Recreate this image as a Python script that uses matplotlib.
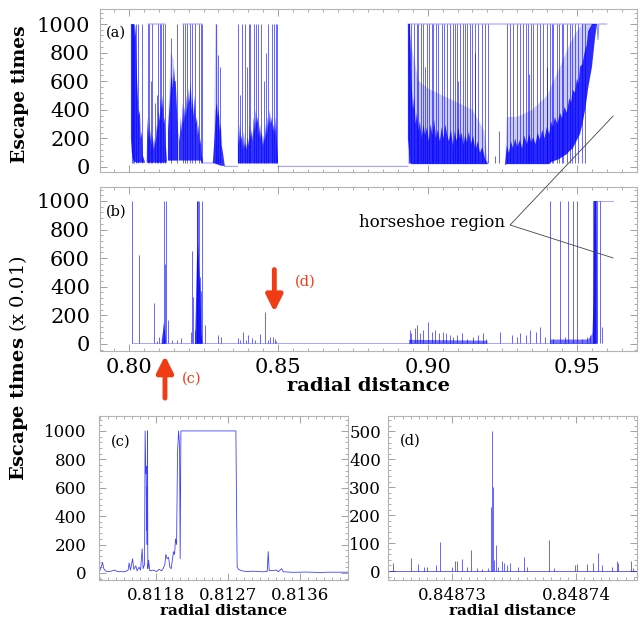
import numpy as np
import matplotlib
matplotlib.use("Agg")
import matplotlib.pyplot as plt
from matplotlib.ticker import MultipleLocator, AutoMinorLocator, FixedLocator, FormatStrFormatter

plt.rcParams['font.family'] = ['DejaVu Serif']
plt.rcParams['mathtext.fontset'] = 'dejavuserif'

nan = np.nan
BLUE = "#0000ff"
RED = "#f03c14"

# ---------------- panel (a): escape times, full range ----------------
# dense blue bands: x, upper edge and floor of each band
a1_x = [0.8007, 0.8010, 0.8013, 0.8017, 0.8020, 0.8023, 0.8027, 0.8030, 0.8033, 0.8037, 0.8040, 0.8044, 0.8047, 0.8054]
a1_hi = [1000, 1000, 1000, 1000, 900, 1000, 650, 500, 350, 400, 200, 250, 80, 35]
a1_lo = [200, 100, 60, 40, 35, 35, 30, 30, 30, 30, 30, 30, 30, 30]

a2_x = [0.8060, 0.8062, 0.8065, 0.8068, 0.8071, 0.8074, 0.8077, 0.8080, 0.8084, 0.8087, 0.8090,
        0.8094, 0.8097, 0.8100, 0.8104, 0.8107, 0.8111, 0.8114, 0.8117, 0.8120, 0.8124, 0.8127]
a2_hi = [40, 350, 200, 320, 180, 260, 150, 220, 120, 200, 160, 300, 250, 400, 320, 480, 400, 500, 300, 350, 150, 60]
a2_lo = [30] * 22

a3_x = [0.8131, 0.8134, 0.8137, 0.8141, 0.8144, 0.8147, 0.8151, 0.8154, 0.8157, 0.8161, 0.8164]
a3_hi = [250, 350, 450, 600, 650, 550, 700, 600, 600, 400, 250]
a3_lo = [45] * 11

a4_x = [0.8167, 0.8170, 0.8174, 0.8177, 0.8181, 0.8184, 0.8187, 0.8191, 0.8194, 0.8197, 0.8201, 0.8204, 0.8207,
        0.8211, 0.8214, 0.8217, 0.8221, 0.8224, 0.8228, 0.8231, 0.8234, 0.8238, 0.8241, 0.8244, 0.8248]
a4_hi = [250, 180, 350, 250, 450, 300, 420, 350, 500, 400, 550, 450, 600,
         400, 480, 350, 500, 300, 350, 220, 300, 150, 200, 80, 40]
a4_lo = [45] * 23 + [35, 30]

a5_x = [0.8281, 0.8285, 0.8288, 0.8291, 0.8295, 0.8298, 0.8301, 0.8305, 0.8308, 0.8311, 0.8315, 0.8321]
a5_hi = [30, 150, 250, 400, 450, 350, 400, 250, 300, 150, 100, 10]
a5_lo = [28, 25, 25, 20, 20, 15, 15, 10, 10, 8, 8, 5]

a6_x = [0.8365, 0.8368, 0.8372, 0.8375, 0.8378, 0.8382, 0.8385, 0.8388, 0.8392, 0.8395,
        0.8398, 0.8402, 0.8405, 0.8408, 0.8412, 0.8415, 0.8418, 0.8422, 0.8425, 0.8428,
        0.8432, 0.8435, 0.8439, 0.8442, 0.8445, 0.8449, 0.8452, 0.8455, 0.8459, 0.8462,
        0.8465, 0.8468, 0.8472, 0.8475, 0.8479, 0.8482, 0.8485, 0.8489, 0.8492, 0.8495, 0.8499]
a6_hi = [250, 150, 300, 180, 220, 120, 250, 140, 170, 120,
         210, 150, 300, 200, 260, 180, 350, 250, 400, 300,
         350, 220, 300, 200, 250, 150, 220, 180, 300, 220,
         350, 280, 400, 300, 350, 250, 300, 230, 350, 200, 50]
a6_lo = [25] * 41

a7_x = [0.8934, 0.8941, 0.8946, 0.8951, 0.8955, 0.8960, 0.8964, 0.8969, 0.8974, 0.8980,
        0.8986, 0.8992, 0.8998, 0.9004, 0.9010, 0.9016, 0.9022, 0.9028, 0.9034, 0.9041,
        0.9047, 0.9053, 0.9059, 0.9065, 0.9071, 0.9078, 0.9085, 0.9091, 0.9097, 0.9103,
        0.9108, 0.9114, 0.9120, 0.9126, 0.9132, 0.9138, 0.9145, 0.9152, 0.9160, 0.9168,
        0.9175, 0.9183, 0.9192, 0.9202]
a7_hi = [1000, 1000, 600, 400, 500, 300, 380, 250, 320, 200,
         300, 220, 280, 180, 300, 220, 330, 200, 260, 180,
         280, 200, 300, 230, 180, 260, 150, 250, 180, 280,
         200, 240, 150, 230, 170, 250, 160, 220, 120, 180,
         100, 140, 60, 20]
a7_lo = [200, 30] + [20] * 42

a8_x = [0.9259, 0.9265, 0.9272, 0.9279, 0.9286, 0.9293, 0.9300, 0.9309, 0.9316, 0.9323,
        0.9332, 0.9340, 0.9347, 0.9353, 0.9361, 0.9368, 0.9376, 0.9384, 0.9391, 0.9399,
        0.9407, 0.9413, 0.9419, 0.9426, 0.9434, 0.9443, 0.9450, 0.9458, 0.9466, 0.9474,
        0.9480, 0.9486, 0.9493, 0.9500, 0.9505, 0.9510, 0.9518, 0.9527, 0.9532, 0.9537,
        0.9550, 0.9560, 0.9567]
a8_hi = [20, 150, 100, 180, 130, 200, 140, 190, 130, 220,
         160, 230, 170, 210, 160, 240, 190, 260, 200, 280,
         230, 320, 280, 350, 300, 380, 340, 420, 380, 480,
         450, 540, 520, 620, 580, 700, 720, 820, 850, 950,
         1000, 1000, 1000]
a8_lo = [15] + [20] * 20 + [35, 40, 45, 50, 60, 70, 80, 90, 110, 120, 130, 160, 190, 210, 230,
                             300, 400, 470, 550, 700, 900, 1000]

# lighter haze of orbits between the dense spikes
a_light_x = [0.8131, 0.8140, 0.8150, 0.8164, nan, 0.8285, 0.8290, 0.8296, 0.8300, nan,
             0.8934, 0.8950, 0.8970, 0.9000, 0.9050, 0.9100, 0.9150, 0.9190, 0.9202, nan,
             0.9259, 0.9265, 0.9300, 0.9350, 0.9400, 0.9443, 0.9474, 0.9500, 0.9518, 0.9537, 0.9560]
a_light_hi = [300, 800, 750, 300, nan, 200, 1000, 1000, 300, nan,
              1000, 800, 600, 550, 500, 450, 400, 250, 20, nan,
              20, 350, 350, 400, 500, 700, 850, 950, 1000, 1000, 1000]
a_light_lo = [45, 45, 45, 45, nan, 25, 20, 20, 15, nan,
              20, 20, 20, 20, 20, 20, 20, 20, 20, nan,
              20, 20, 20, 20, 20, 60, 110, 190, 300, 550, 900]

# single orbits reaching high escape times
a_spike_x = [0.8010, 0.8013, 0.8017, 0.8023, 0.8030, 0.8044,
             0.8064, 0.8067, 0.8074, 0.8077, 0.8087, 0.8094, 0.8097, 0.8104, 0.8107, 0.8114, 0.8121,
             0.8141, 0.8161,
             0.8181, 0.8187, 0.8194, 0.8204, 0.8211, 0.8221, 0.8234, 0.8241, 0.8244,
             0.8291, 0.8298, 0.8305,
             0.8365, 0.8372, 0.8378, 0.8388, 0.8395, 0.8402, 0.8405, 0.8418, 0.8425, 0.8432, 0.8442,
             0.8452, 0.8459, 0.8465, 0.8479, 0.8485, 0.8492, 0.8495,
             0.8938, 0.8946, 0.8954, 0.8963, 0.8969, 0.8977, 0.8985, 0.8990, 0.8997, 0.9005, 0.9013,
             0.9019, 0.9028, 0.9035, 0.9047, 0.9055, 0.9064, 0.9075, 0.9086, 0.9091, 0.9099, 0.9100,
             0.9108, 0.9119, 0.9125, 0.9131, 0.9142, 0.9147, 0.9158, 0.9160, 0.9169, 0.9181, 0.9192,
             0.9203, 0.9225, 0.9240, 0.9264, 0.9276, 0.9287, 0.9298, 0.9309, 0.9320, 0.9329, 0.9337,
             0.9340, 0.9345, 0.9354, 0.9365, 0.9376, 0.9387, 0.9398, 0.9400, 0.9409, 0.9415, 0.9420,
             0.9432, 0.9441, 0.9449, 0.9454, 0.9465, 0.9476, 0.9482, 0.9493, 0.9504, 0.9516, 0.9527]
a_spike_h = [1000, 1000, 1000, 1000, 1000, 1000,
             1000, 1000, 600, 1000, 450, 500, 1000, 1000, 1000, 1000, 1000,
             900, 1000,
             1000, 1000, 1000, 1000, 1000, 1000, 1000, 1000, 1000,
             1000, 780, 700,
             1000, 500, 1000, 1000, 700, 1000, 1000, 1000, 1000, 1000, 1000,
             600, 800, 1000, 1000, 1000, 1000, 1000,
             1000, 1000, 1000, 1000, 1000, 1000, 1000, 700, 1000, 1000, 1000,
             1000, 1000, 1000, 1000, 1000, 1000, 1000, 1000, 1000, 1000, 600,
             1000, 1000, 1000, 1000, 1000, 1000, 1000, 800, 1000, 1000, 1000,
             1000, 75, 250, 1000, 1000, 1000, 1000, 1000, 1000, 1000, 1000,
             650, 1000, 1000, 1000, 1000, 1000, 1000, 700, 1000, 1000, 1000,
             1000, 1000, 1000, 1000, 1000, 1000, 1000, 1000, 1000, 1000, 1000]

# flat parts of the curve (floor and saturated top)
a_line_x = [0.8064, 0.8121, nan, 0.8181, 0.8244, nan, 0.8248, 0.8281, nan, 0.8321, 0.8365, nan,
            0.8499, 0.8934, nan, 0.8934, 0.9567, 0.9570, 0.9573, 0.9600]
a_line_y = [1000, 1000, nan, 1000, 1000, nan, 28, 28, nan, 5, 5, nan,
            5, 5, nan, 1000, 1000, 890, 1000, 1000]

# ---------------- panel (b): escape times x 0.01 ----------------
b_fill_x = [0.8110, 0.8114, 0.8117, 0.8120, 0.8123, nan,
            0.8222, 0.8225, 0.8228, 0.8232, 0.8236, 0.8240, 0.8243, 0.8246, nan,
            0.9552, 0.9555, 0.9558, 0.9566, 0.9568]
b_fill_hi = [20, 80, 150, 100, 30, nan,
             50, 300, 600, 700, 500, 350, 80, 15, nan,
             80, 300, 1000, 1000, 10]
# thin dark strip of short escape times along the floor
b_strip_x = [0.8938, 0.9200, nan, 0.9410, 0.9535, 0.9545, 0.9552]
b_strip_hi = [28, 22, nan, 30, 30, 45, 80]

b_spike_x = [0.8009, 0.8035, 0.8084, 0.8094, 0.8100, 0.8118, 0.8121, 0.8126, 0.8132,
             0.8145, 0.8161, 0.8173, 0.8207, 0.8211, 0.8214, 0.8220, 0.8227, 0.8229, 0.8232,
             0.8235, 0.8238, 0.8241, 0.8245, 0.8254, 0.8299, 0.8310,
             0.8366, 0.8373, 0.8383, 0.8391, 0.8399, 0.8411, 0.8422, 0.8439, 0.8455, 0.8466,
             0.8474, 0.8481, 0.8488, 0.8494,
             0.8941, 0.8946, 0.8957, 0.8965, 0.8974, 0.8985, 0.9002, 0.9013, 0.9024, 0.9039,
             0.9052, 0.9061, 0.9075, 0.9084, 0.9097, 0.9114, 0.9131, 0.9153, 0.9169, 0.9186,
             0.9197, 0.9242, 0.9281, 0.9298, 0.9309, 0.9329, 0.9342, 0.9363, 0.9376, 0.9393,
             0.9410, 0.9421, 0.9443, 0.9460, 0.9471, 0.9487, 0.9501, 0.9516, 0.9532, 0.9543,
             0.9554, 0.9558, 0.9561, 0.9566, 0.9577, 0.9582]
b_spike_h = [1000, 622, 287, 20, 45, 1000, 560, 1000, 170,
             30, 25, 40, 80, 650, 330, 100, 1000, 1000, 1000,
             1000, 470, 370, 1000, 130, 60, 50,
             38, 25, 80, 30, 60, 40, 25, 70, 224, 30,
             50, 45, 35, 20,
             98, 75, 110, 133, 75, 98, 156, 85, 98, 75,
             85, 75, 60, 51, 60, 75, 35, 51, 60, 75,
             35, 85, 60, 51, 75, 60, 98, 85, 120, 51,
             1000, 35, 1000, 51, 1000, 1000, 1000, 35, 51, 60,
             1000, 1000, 1000, 1000, 1000, 120]

b_line_x = [0.8009, 0.9554, nan, 0.9554, 0.9620]
b_line_y = [6, 6, nan, 1000, 1000]

# ---------------- panel (c): zoom near 0.8118 ----------------
c_x = [0.811091, 0.811100, 0.811121, 0.811134, 0.811150, 0.811175, 0.811225, 0.811288, 0.811316,
       0.811413, 0.811454, 0.811466, 0.811484, 0.811509, 0.811525, 0.811550, 0.811566, 0.811591,
       0.811609, 0.811629, 0.811641, 0.811659, 0.811666, 0.811675, 0.811679, 0.811684, 0.811688,
       0.811691, 0.811696, 0.811700, 0.811709, 0.811725, 0.811766, 0.811809, 0.811841, 0.811871,
       0.811891, 0.811913, 0.811925, 0.811941, 0.811959, 0.811975, 0.811991, 0.812009, 0.812021,
       0.812034, 0.812046, 0.812059, 0.812071, 0.812084, 0.812096, 0.812104, 0.812113, 0.812125,
       0.812134, 0.812800, 0.812809, 0.812816, 0.812834, 0.812871, 0.812934, 0.813016, 0.813141,
       0.813191, 0.813204, 0.813216, 0.813309, 0.813329, 0.813371, 0.813391, 0.813517, 0.813684,
       0.813850, 0.813954, 0.814200]
c_y = [10, 15, 50, 73, 30, 12, 10, 20, 10,
       8, 20, 70, 20, 100, 25, 50, 15, 40,
       20, 170, 30, 60, 1000, 700, 750, 300, 600,
       200, 1000, 30, 90, 15, 20, 10, 25, 15,
       30, 60, 130, 100, 110, 40, 30, 100, 150,
       130, 240, 200, 850, 1000, 900, 100, 1000, 1000,
       1000, 1000, 400, 40, 25, 15, 10, 12, 8,
       10, 150, 15, 20, 8, 30, 8, 4, 6,
       3, 5, 5]

# ---------------- panel (d): zoom near 0.84873 ----------------
d_spike_x = [0.8487252, 0.8487267, 0.8487272, 0.8487277, 0.8487280, 0.8487287, 0.8487290,
             0.8487300, 0.8487302, 0.8487304, 0.8487308, 0.8487312, 0.8487315, 0.8487320,
             0.8487324, 0.8487329, 0.8487331, 0.8487332, 0.8487333, 0.8487334, 0.8487335,
             0.8487337, 0.8487340, 0.8487342, 0.8487344, 0.8487347, 0.8487353, 0.8487358,
             0.8487360, 0.8487378, 0.8487382, 0.8487399, 0.8487401, 0.8487409, 0.8487414,
             0.8487418, 0.8487421, 0.8487429, 0.8487433, 0.8487434, 0.8487444, 0.8487446]
d_spike_h = [30, 45, 25, 15, 15, 22, 105,
             15, 35, 37, 42, 15, 75, 10,
             8, 10, 230, 501, 300, 40, 93,
             15, 37, 30, 20, 30, 15, 51,
             15, 111, 10, 20, 25, 25, 30,
             63, 20, 15, 36, 30, 36, 10]
d_line_x = [0.8487248, 0.8487449]
d_line_y = [1, 1]


def join(parts):
	out = []
	for p in parts:
		if out:
			out.append(nan)
		out.extend(p)
	return out


a_fill_x = join([a1_x, a2_x, a3_x, a4_x, a5_x, a6_x, a7_x, a8_x])
a_fill_hi = join([a1_hi, a2_hi, a3_hi, a4_hi, a5_hi, a6_hi, a7_hi, a8_hi])
a_fill_lo = join([a1_lo, a2_lo, a3_lo, a4_lo, a5_lo, a6_lo, a7_lo, a8_lo])

fig = plt.figure(figsize=(6.4, 6.2), dpi=100)
ax_a = fig.add_axes([0.156, 0.7226, 0.839, 0.2629])
ax_b = fig.add_axes([0.156, 0.4339, 0.839, 0.2645])
ax_c = fig.add_axes([0.1547, 0.0645, 0.389, 0.2645])
ax_d = fig.add_axes([0.606, 0.0645, 0.389, 0.2645])


def style(ax, size, ypad):
	for sp in ax.spines.values():
		sp.set_color("#b4b4b4")
		sp.set_linewidth(0.8)
	ax.tick_params(which="both", direction="in", top=True, right=True, color="#a0a0a0", labelsize=size)
	ax.tick_params(axis="x", pad=5)
	ax.tick_params(axis="y", pad=ypad)
	ax.tick_params(which="major", length=5, width=0.7)
	ax.tick_params(which="minor", length=2.5, width=0.6)


# (a)
ax_a.fill_between(a_light_x, a_light_lo, a_light_hi, color=BLUE, alpha=0.2, lw=0)
ax_a.fill_between(a_fill_x, a_fill_lo, a_fill_hi, color=BLUE, alpha=0.8, lw=0)
ax_a.vlines(a_spike_x, 25, a_spike_h, color=BLUE, lw=0.7, alpha=0.6)
ax_a.plot(a_line_x, a_line_y, color=BLUE, lw=0.6, alpha=0.5)
ax_a.set_xlim(0.7903, 0.970)
ax_a.set_ylim(-35, 1105)
ax_a.xaxis.set_major_locator(MultipleLocator(0.05))
ax_a.xaxis.set_minor_locator(AutoMinorLocator(10))
ax_a.yaxis.set_major_locator(MultipleLocator(200))
ax_a.yaxis.set_minor_locator(AutoMinorLocator(5))
ax_a.set_xticklabels([])
style(ax_a, 15, 7)
ax_a.text(0.011, 0.853, "(a)", transform=ax_a.transAxes, ha="left", va="center", fontsize=10.5)

# (b)
ax_b.fill_between(b_strip_x, 0, b_strip_hi, color=BLUE, alpha=0.55, lw=0)
ax_b.fill_between(b_fill_x, 0, b_fill_hi, color=BLUE, alpha=0.8, lw=0)
ax_b.vlines(b_spike_x, 5, b_spike_h, color=BLUE, lw=0.7, alpha=0.6)
ax_b.plot(b_line_x, b_line_y, color=BLUE, lw=0.6, alpha=0.4)
ax_b.set_xlim(0.7903, 0.970)
ax_b.set_ylim(-50, 1098)
ax_b.xaxis.set_major_locator(MultipleLocator(0.05))
ax_b.xaxis.set_minor_locator(AutoMinorLocator(10))
ax_b.xaxis.set_major_formatter(FormatStrFormatter("%.2f"))
ax_b.yaxis.set_major_locator(MultipleLocator(200))
ax_b.yaxis.set_minor_locator(AutoMinorLocator(5))
style(ax_b, 15, 7)
ax_b.text(0.011, 0.848, "(b)", transform=ax_b.transAxes, ha="left", va="center", fontsize=10.5)
ax_b.set_xlabel("radial distance", fontsize=14, fontweight="bold", labelpad=0)

# arrows pointing at the zoomed regions
ax_b.annotate("", xy=(0.8487, 224), xytext=(0.8487, 520),
              arrowprops=dict(arrowstyle="-|>,head_width=0.35,head_length=0.7", lw=3.5, color=RED,
                              shrinkA=0, shrinkB=0, mutation_scale=14), annotation_clip=False)
ax_b.text(0.8556, 434, "(d)", color=RED, fontsize=10.5, ha="left", va="center")
ax_b.annotate("", xy=(0.8121, -84), xytext=(0.8121, -380),
              arrowprops=dict(arrowstyle="-|>,head_width=0.35,head_length=0.7", lw=3.5, color=RED,
                              shrinkA=0, shrinkB=0, mutation_scale=14), annotation_clip=False)
ax_b.text(0.8177, -245, "(c)", color=RED, fontsize=10.5, ha="left", va="center", clip_on=False)

# horseshoe region label with two pointer lines
ax_b.text(0.9259, 846, "horseshoe region", fontsize=12, ha="right", va="center")
ax_b.annotate("", xy=(0.9621, 601), xytext=(0.9276, 832),
              arrowprops=dict(arrowstyle="-", lw=0.6, color="#444444", shrinkA=0, shrinkB=0),
              annotation_clip=False)
ax_b.annotate("", xy=(0.9621, 357), xycoords=ax_a.transData, xytext=(0.9276, 832), textcoords=ax_b.transData,
              arrowprops=dict(arrowstyle="-", lw=0.6, color="#444444", shrinkA=0, shrinkB=0),
              annotation_clip=False)

# (c)
ax_c.plot(c_x, c_y, color=BLUE, lw=0.6, alpha=0.75)
ax_c.set_xlim(0.81109, 0.8142)
ax_c.set_ylim(-50, 1105)
ax_c.xaxis.set_major_locator(FixedLocator([0.8118, 0.8127, 0.8136]))
ax_c.xaxis.set_major_formatter(FormatStrFormatter("%.4f"))
ax_c.xaxis.set_minor_locator(MultipleLocator(0.0001))
ax_c.yaxis.set_major_locator(MultipleLocator(200))
ax_c.yaxis.set_minor_locator(AutoMinorLocator(5))
style(ax_c, 12, 9)
ax_c.text(0.048, 0.841, "(c)", transform=ax_c.transAxes, ha="left", va="center", fontsize=10.5)
ax_c.set_xlabel("radial distance", fontsize=11, fontweight="bold", labelpad=0)

# (d)
ax_d.plot(d_line_x, d_line_y, color=BLUE, lw=0.6, alpha=0.7)
ax_d.vlines(d_spike_x, 0, d_spike_h, color=BLUE, lw=0.7, alpha=0.6)
ax_d.set_xlim(0.8487248, 0.8487449)
ax_d.set_ylim(-32, 555)
ax_d.xaxis.set_major_locator(FixedLocator([0.84873, 0.84874]))
ax_d.xaxis.set_major_formatter(FormatStrFormatter("%.5f"))
ax_d.xaxis.set_minor_locator(MultipleLocator(1e-5 / 15))
ax_d.yaxis.set_major_locator(MultipleLocator(100))
ax_d.yaxis.set_minor_locator(AutoMinorLocator(5))
style(ax_d, 12, 5)
ax_d.text(0.048, 0.848, "(d)", transform=ax_d.transAxes, ha="left", va="center", fontsize=10.5)
ax_d.set_xlabel("radial distance", fontsize=11, fontweight="bold", labelpad=0)

# y labels
fig.text(0.031, 1 - 94 / 620, "Escape times", rotation=90, ha="center", va="center",
         fontsize=13.5, fontweight="bold")
fig.text(0.029, 1 - 368 / 620, r"$\mathbf{Escape\ times}$ (x 0.01)", rotation=90, ha="center", va="center",
         fontsize=14)

fig.savefig("out.png", dpi=100)
